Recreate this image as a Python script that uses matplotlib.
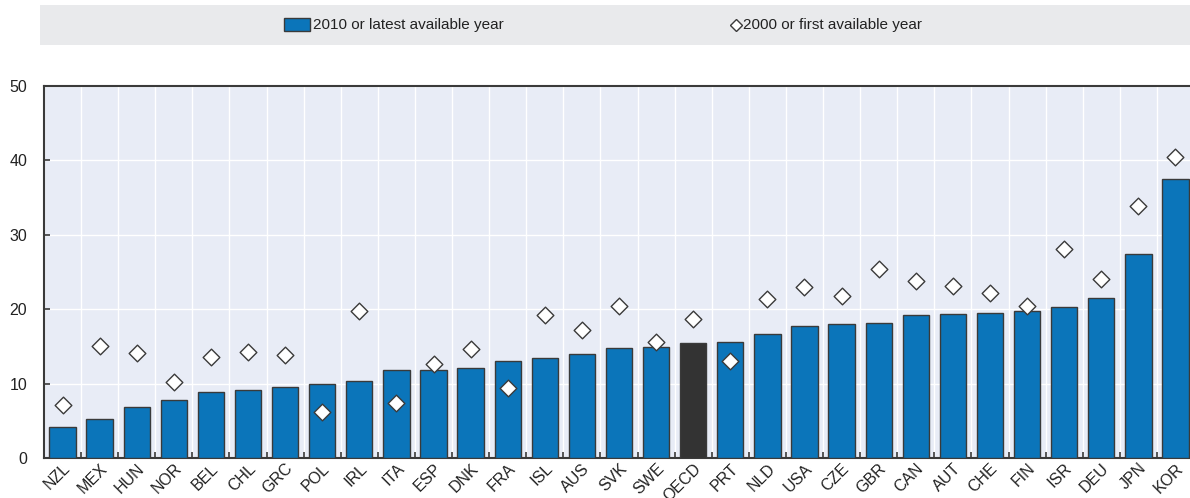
import numpy as np
import matplotlib.pyplot as plt
from matplotlib.lines import Line2D
from matplotlib.patches import Rectangle

plt.rcParams['font.family'] = ['Liberation Sans', 'DejaVu Sans']

# DATA
countries = ["NZL", "MEX", "HUN", "NOR", "BEL", "CHL", "GRC", "POL", "IRL", "ITA",
             "ESP", "DNK", "FRA", "ISL", "AUS", "SVK", "SWE", "OECD", "PRT", "NLD",
             "USA", "CZE", "GBR", "CAN", "AUT", "CHE", "FIN", "ISR", "DEU", "JPN", "KOR"]
latest = [4.2, 5.3, 6.9, 7.8, 8.9, 9.1, 9.6, 10.0, 10.4, 11.8,
          11.8, 12.1, 13.1, 13.4, 14.0, 14.8, 14.9, 15.5, 15.6, 16.7,
          17.8, 18.05, 18.2, 19.2, 19.3, 19.5, 19.7, 20.25, 21.55, 27.4, 37.5]
first = [7.1, 15.0, 14.1, 10.2, 13.6, 14.25, 13.85, 6.2, 19.75, 7.35,
         12.6, 14.6, 9.45, 19.2, 17.15, 20.4, 15.55, 18.7, 13.0, 21.4,
         23.0, 21.8, 25.45, 23.85, 23.1, 22.2, 20.4, 28.1, 24.1, 33.9, 40.4]
labels = ["2010 or latest available year", "2000 or first available year"]

blue = "#0b75ba"
dark = "#333333"
edge = "#3a3a3a"
txt = "#222222"

fig = plt.figure(figsize=(11.9, 4.98), dpi=100)
W, H = 1190, 498
ax = fig.add_axes([44 / W, 40 / H, 1150 / W, 372 / H])
ax.set_facecolor("#e8ecf6")

x = np.arange(len(countries))
colors = [dark if c == "OECD" else blue for c in countries]
ax.bar(x, latest, width=0.71, color=colors, edgecolor=edge, linewidth=1.0, zorder=3)
ax.scatter(x, first, marker="D", s=72, facecolor="white", edgecolor=edge,
           linewidth=1.0, zorder=4)

ax.set_xlim(-0.5, len(countries) - 0.5)
ax.set_ylim(0, 50)
ax.set_yticks(np.arange(0, 51, 10))
ax.set_xticks(x)
ax.set_xticklabels(countries, rotation=45, ha="right", va="top",
                   rotation_mode="anchor", fontsize=11.5, color=txt)
ax.tick_params(axis="x", length=0, pad=2)
ax.set_xticks(np.arange(-0.5, len(countries), 1), minor=True)
ax.tick_params(axis="x", which="minor", direction="in", length=4, width=1.2, color=edge)
ax.tick_params(axis="y", direction="in", length=4, width=1.2, color=edge,
               labelsize=11.5, labelcolor=txt, pad=12)

ax.grid(axis="y", which="major", color="white", linewidth=1.0, zorder=0)
ax.grid(axis="x", which="minor", color="white", linewidth=1.0, zorder=0)
ax.grid(axis="x", which="major", visible=False)
ax.set_axisbelow(True)

for side in ["left", "bottom", "top"]:
    ax.spines[side].set_color(edge)
    ax.spines[side].set_linewidth(1.5)
ax.spines["right"].set_visible(False)

# legend band, drawn in pixel coordinates of the figure
fig.patches.append(Rectangle((40 / W, 1 - 45 / H), 1160 / W, 40 / H,
                             transform=fig.transFigure, facecolor="#e9eaec",
                             edgecolor="none", zorder=0))
fig.patches.append(Rectangle((284 / W, 1 - 31 / H), 26 / W, 13 / H,
                             transform=fig.transFigure, facecolor=blue,
                             edgecolor=edge, linewidth=1.0, zorder=2))
fig.lines.append(Line2D([736 / W], [1 - 25 / H], transform=fig.transFigure,
                        marker="D", linestyle="none", markersize=6,
                        markerfacecolor="white", markeredgecolor=edge,
                        markeredgewidth=1.0))
fig.text(313 / W, 1 - 25 / H, labels[0], ha="left", va="center",
         fontsize=11, color=txt)
fig.text(743 / W, 1 - 25 / H, labels[1], ha="left", va="center",
         fontsize=11, color=txt)

fig.savefig("out.png", dpi=100)
